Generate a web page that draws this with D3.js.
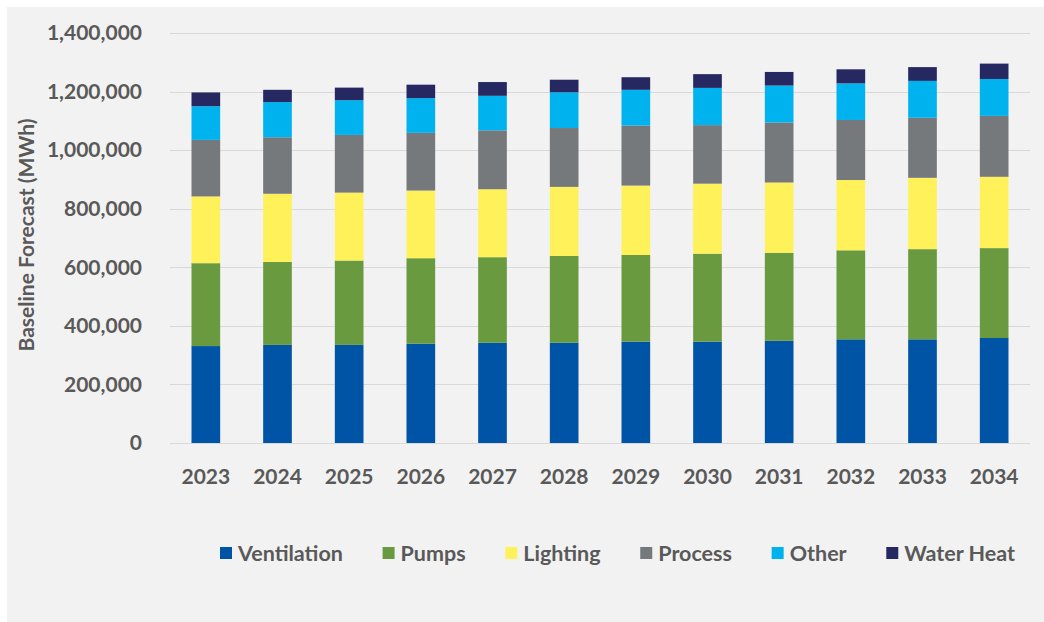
<!DOCTYPE html>
<html>
<head>
<meta charset="utf-8">
<script src="https://cdn.jsdelivr.net/npm/d3@7"></script>
<style>
  html, body { margin: 0; padding: 0; background: #ffffff; }
  svg { display: block; }
  text { font-family: Lato, "Open Sans", sans-serif; font-weight: 700; fill: #595959; }
</style>
</head>
<body>
<svg id="chart" width="1044" height="622"></svg>
<script>
// ---- data (MWh) ----
const years = ["2023","2024","2025","2026","2027","2028","2029","2030","2031","2032","2033","2034"];
const seriesNames = ["Ventilation","Pumps","Lighting","Process","Other","Water Heat"];
const ventilation = [331000,335000,335000,339000,342500,342500,346000,346000,349000,354000,354000,358500];
const pumps       = [283000,283000,288000,292000,292000,296000,296000,300500,300500,304000,308000,307000];
const lighting    = [228000,233000,232000,231000,232000,236000,237000,239000,240000,240000,243500,243500];
const processV    = [193000,193000,197000,197000,201000,201000,205000,200000,205000,205000,205000,208000];
const other       = [115000,120000,118500,118500,118000,122000,122000,127000,126000,125000,126000,126000];
const waterHeat   = [47000,42000,43000,46000,47000,43000,43000,47000,46500,48000,47000,52500];
const yTicks = [0,200000,400000,600000,800000,1000000,1200000,1400000];
const colors = ["#0054a6","#699a3f","#fff15a","#76797c","#00b3ee","#262862"];

const seriesValues = [ventilation, pumps, lighting, processV, other, waterHeat];
const rows = years.map((y, i) => {
  const r = { year: y };
  seriesNames.forEach((s, k) => r[s] = seriesValues[k][i]);
  return r;
});

const svg = d3.select("#chart");
svg.append("rect").attr("x", 7).attr("y", 7).attr("width", 1037).attr("height", 615).attr("fill", "#f2f2f2");

const x = d3.scaleBand().domain(years).range([170, 1030]).paddingInner(0.6).paddingOuter(0.3);
const y = d3.scaleLinear().domain([0, 1400000]).range([443, 33]);

// gridlines
svg.append("g").selectAll("line").data(yTicks).join("line")
  .attr("x1", 170).attr("x2", 1030)
  .attr("y1", d => Math.round(y(d)) + 0.5).attr("y2", d => Math.round(y(d)) + 0.5)
  .attr("stroke", "#d9d9d9").attr("stroke-width", 1);

// y axis labels
const fmt = d3.format(",");
svg.append("g").selectAll("text").data(yTicks).join("text")
  .attr("x", 142).attr("y", d => y(d)).attr("dy", "0.35em")
  .attr("text-anchor", "end").attr("font-size", 21)
  .text(d => fmt(d));

// y axis title
svg.append("text")
  .attr("transform", "translate(34,235) rotate(-90)")
  .attr("text-anchor", "middle").attr("font-size", 21)
  .text("Baseline Forecast (MWh)");

// bars
const stack = d3.stack().keys(seriesNames)(rows);
svg.append("g").selectAll("g").data(stack).join("g")
  .attr("fill", (d, i) => colors[i])
  .selectAll("rect").data(d => d).join("rect")
  .attr("x", d => x(d.data.year))
  .attr("width", x.bandwidth())
  .attr("y", d => y(d[1]))
  .attr("height", d => y(d[0]) - y(d[1]));

// x labels
svg.append("g").selectAll("text").data(years).join("text")
  .attr("x", d => x(d) + x.bandwidth() / 2).attr("y", 477).attr("dy", "0.35em")
  .attr("text-anchor", "middle").attr("font-size", 21)
  .text(d => d);

// legend
const lg = svg.append("g");
const items = lg.selectAll("g").data(seriesNames).join("g");
items.append("rect").attr("width", 12).attr("height", 12).attr("y", 547)
  .attr("fill", (d, i) => colors[seriesNames.indexOf(d)]);
items.append("text").attr("x", 18).attr("y", 553).attr("dy", "0.35em").attr("font-size", 21.5).text(d => d);
const widths = [];
items.each(function () { widths.push(18 + d3.select(this).select("text").node().getComputedTextLength()); });
const startX = 220, endX = 1015;
const totalW = d3.sum(widths);
const gap = (endX - startX - totalW) / (seriesNames.length - 1);
let cx = startX;
items.each(function (d, i) {
  d3.select(this).attr("transform", `translate(${cx},0)`);
  cx += widths[i] + gap;
});
</script>
</body>
</html>
